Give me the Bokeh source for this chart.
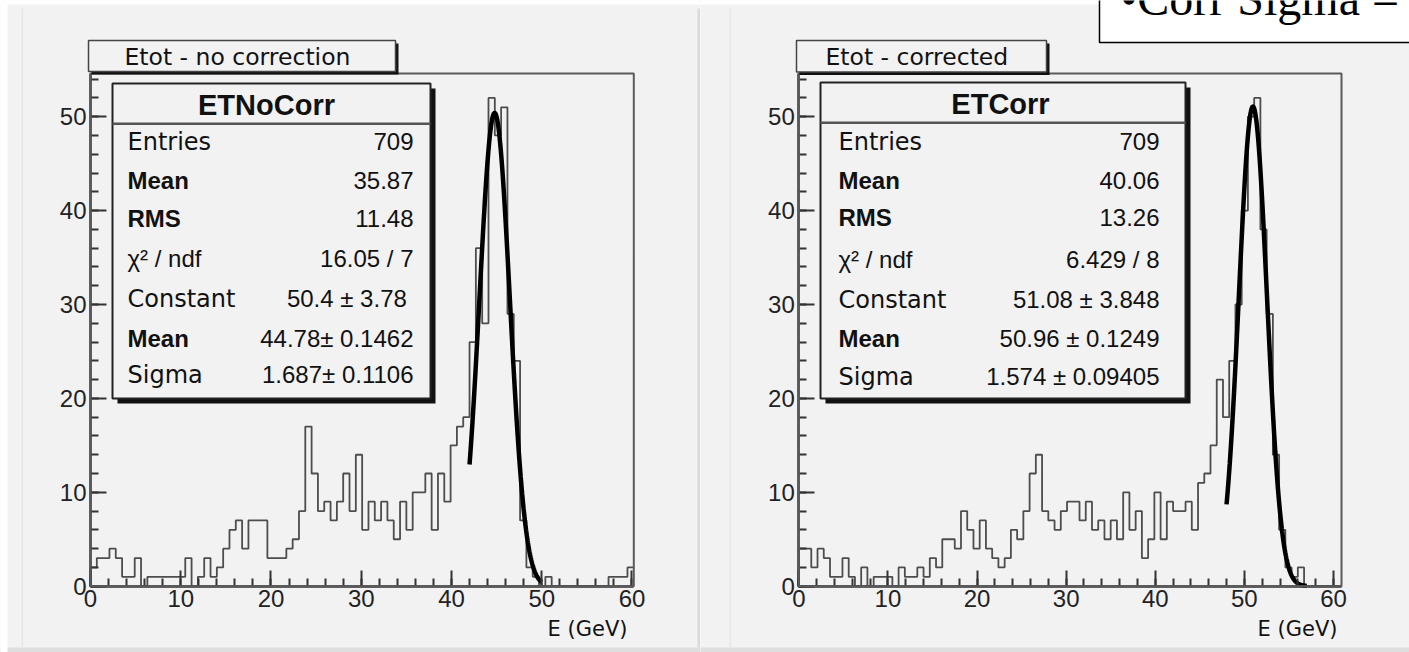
import numpy as np
from bokeh.plotting import figure
from bokeh.layouts import row
from bokeh.models import Range1d, SingleIntervalTicker, BoxAnnotation, Label
from bokeh.embed import file_html
from bokeh.resources import INLINE

# ---------------- data ----------------
bin_width = 0.7
y_max = 54.6
tick_interval = 10
minor_per_major = 5

counts_nocorr = [2, 3, 3, 4, 3, 1, 1, 3, 0, 1,
                 1, 1, 1, 1, 1, 3, 0, 1, 3, 1,
                 2, 4, 6, 7, 4, 7, 7, 7, 3, 3,
                 3, 4, 5, 8, 17, 12, 8, 9, 7, 9,
                 12, 8, 14, 6, 9, 7, 9, 7, 5, 9,
                 6, 10, 10, 12, 6, 12, 9, 15, 17, 18,
                 26, 36, 28, 52, 48, 51, 29, 24, 7, 2,
                 1, 0, 1, 0, 0, 0, 0, 0, 0, 0,
                 0, 0, 1, 1, 1, 2]

counts_corr = [4, 4, 2, 4, 3, 1, 1, 3, 1, 0,
               2, 0, 1, 1, 1, 0, 2, 1, 1, 2,
               1, 3, 2, 5, 5, 4, 8, 6, 4, 7,
               4, 3, 2, 3, 6, 5, 8, 12, 14, 8,
               7, 6, 8, 9, 9, 7, 9, 6, 7, 5,
               7, 5, 10, 6, 8, 3, 5, 10, 5, 9,
               8, 8, 9, 6, 11, 12, 15, 22, 18, 24,
               30, 40, 50, 52, 38, 29, 14, 6, 2, 1,
               2, 0, 0, 0, 0, 0, 0]

stat_labels = ["Entries", "Mean", "RMS", "\u03c7\u00b2 / ndf", "Constant", "Mean", "Sigma"]
stat_bold = [False, True, True, False, False, True, False]
stat_values_nocorr = ["709", "35.87", "11.48", "16.05 / 7", "50.4 \u00b1  3.78",
                      "44.78\u00b1 0.1462", "1.687\u00b1 0.1106"]
stat_values_corr = ["709", "40.06", "13.26", "6.429 / 8", "51.08 \u00b1 3.848",
                    "50.96 \u00b1 0.1249", "1.574 \u00b1 0.09405"]

fit_nocorr = {"constant": 50.4, "mean": 44.78, "sigma": 1.687, "lo": 42.0, "hi": 50.0}
fit_corr = {"constant": 51.08, "mean": 50.96, "sigma": 1.574, "lo": 48.0, "hi": 57.0}

x_title = "E (GeV)"
overlay_text = "\u2022Corr Sigma ="

SANS = "Liberation Sans"
WIDE = "DejaVu Sans"
BG = "#f2f2f2"
H = 652


def box(p, l, r, t, b, fill, line=None, lw=0, units="canvas"):
    p.add_layout(BoxAnnotation(left=l, right=r, top=t, bottom=b,
                               left_units=units, right_units=units,
                               top_units=units, bottom_units=units,
                               fill_color=fill, fill_alpha=1.0 if fill else 0.0,
                               line_color=line, line_alpha=1.0 if line else 0.0,
                               line_width=lw, level="overlay"))


def text(p, x, y, s, size, align="left", bold=False, font=SANS, color="#111111",
         baseline="middle"):
    p.add_layout(Label(x=x, y=y, x_units="canvas", y_units="canvas", text=s,
                       text_font=font, text_font_size=size, text_align=align,
                       text_baseline=baseline, text_color=color,
                       text_font_style="bold" if bold else "normal", level="overlay"))


def panel(counts, fit, width, htitle, sname, svalues, L):
    x_end = len(counts) * bin_width
    # pixel placement of the ROOT frame inside this canvas
    px0, px1, py0, py1 = L["frame_px"]          # x of 0 / x of x_end, y of 0 / y of y_max
    kx = (px1 - px0) / x_end
    ky = (py0 - py1) / y_max
    xr = Range1d(-px0 / kx, (width - px0) / kx)
    yr = Range1d(-(H - py0) / ky, py0 / ky)
    p = figure(width=width, height=H, x_range=xr, y_range=yr, title=None,
               output_backend="svg", toolbar_location=None,
               background_fill_color=BG, border_fill_color=BG, min_border=0)
    p.grid.visible = False
    p.outline_line_color = None

    # page decorations
    box(p, -5, width + 5, -5, 4, "white")
    box(p, -5, width + 5, 647, 660, "#dedede")
    for (l, r, t, b, c) in L["bevels"]:
        box(p, l, r, t, b, c)

    # ROOT frame (top / right edges)
    box(p, 0, x_end, y_max, 0, None, "#5a5a5a", 2, units="data")

    for ax, bounds in ((p.xaxis[0], (0, x_end)), (p.yaxis[0], (0, y_max))):
        ax.fixed_location = 0
        ax.bounds = bounds
        ax.ticker = SingleIntervalTicker(interval=tick_interval,
                                         num_minor_ticks=minor_per_major)
        ax.major_tick_in = 16
        ax.major_tick_out = 0
        ax.minor_tick_in = 8
        ax.minor_tick_out = 0
        ax.axis_line_color = "#333333"
        ax.axis_line_width = 2.5
        ax.major_tick_line_color = "#333333"
        ax.major_tick_line_width = 2
        ax.minor_tick_line_color = "#333333"
        ax.minor_tick_line_width = 2
        ax.major_label_text_font = SANS
        ax.major_label_text_font_size = "24px"
        ax.major_label_text_color = "#222222"
        ax.major_label_standoff = 4

    # histogram outline
    xs, ys = [0.0], [0.0]
    for i, c in enumerate(counts):
        xs += [i * bin_width, (i + 1) * bin_width]
        ys += [c, c]
    p.line(xs, ys, line_color="#4d4d4d", line_width=1.8)

    # gaussian fit
    gx = np.linspace(fit["lo"], fit["hi"], 200)
    gy = fit["constant"] * np.exp(-0.5 * ((gx - fit["mean"]) / fit["sigma"]) ** 2)
    p.line(gx, gy, line_color="black", line_width=4.5)

    # title box
    tl, tr, tt, tb = L["tbox"]
    box(p, tl + 3, tr + 3, tt + 3, tb + 3, "#111111")
    box(p, tl, tr, tt, tb, BG, "#444444", 1.5)
    text(p, L["ttext_x"], (tt + tb) / 2 + 1, htitle, "23.5px", font=WIDE)

    # stat box
    sl, sr, st, sb = L["sbox"]
    box(p, sl + 5, sr + 5, st + 5, sb + 5, "#111111")
    box(p, sl, sr, st, sb, BG, "#222222", 2)
    box(p, sl, sr, L["sep"] - 1, L["sep"] + 1.5, "#555555")
    text(p, L["name_x"], (st + L["sep"]) / 2 + 1, sname, "29px", "center", True)
    for lab, b, val, yy in zip(stat_labels, stat_bold, svalues, L["rows"]):
        lab_font = SANS if (b or lab.startswith("\u03c7")) else WIDE
        text(p, L["lab_x"], yy, lab, "24px", "left", b, font=lab_font)
        text(p, L["val_x"], yy, val, "24px", "right")

    text(p, L["xt_x"], 628, x_title, "21px", "right", font=WIDE)
    return p


L1 = dict(frame_px=(90, 633.3, 585.7, 73),
          tbox=(88, 395, 40, 71), ttext_x=124,
          sbox=(112, 430, 83, 398), sep=123, name_x=266,
          rows=[141, 180, 218, 258, 298, 338, 374], lab_x=127, val_x=413,
          xt_x=627,
          bevels=[(-5, 7, -5, 660, "white"), (697, 704, 8, 647, "#d9d9d9"),
                  (21, 22.5, 8, 647, "#e6e6e6")])
L2 = dict(frame_px=(98.3, 641, 585.7, 73),
          tbox=(96, 346, 40, 71.5), ttext_x=125,
          sbox=(120, 485, 82, 398), sep=122, name_x=300,
          rows=[141, 180, 217, 259, 299, 338, 376], lab_x=138, val_x=459,
          xt_x=637,
          bevels=[(29, 30.5, 8, 647, "#e6e6e6")])

p1 = panel(counts_nocorr, fit_nocorr, 700, "Etot - no correction", "ETNoCorr",
           stat_values_nocorr, L1)
p2 = panel(counts_corr, fit_corr, 709, "Etot - corrected", "ETCorr",
           stat_values_corr, L2)

# overlay box in the top right corner (its text is cut by the page top, as in the original)
box(p2, 399, 720, -10, 42, "white", "black", 1.5)
text(p2, 420, -2, overlay_text, "48px", "left", font="Liberation Serif", color="black")

layout = row(p1, p2, spacing=0)
open("out.html", "w").write(file_html(layout, INLINE))
